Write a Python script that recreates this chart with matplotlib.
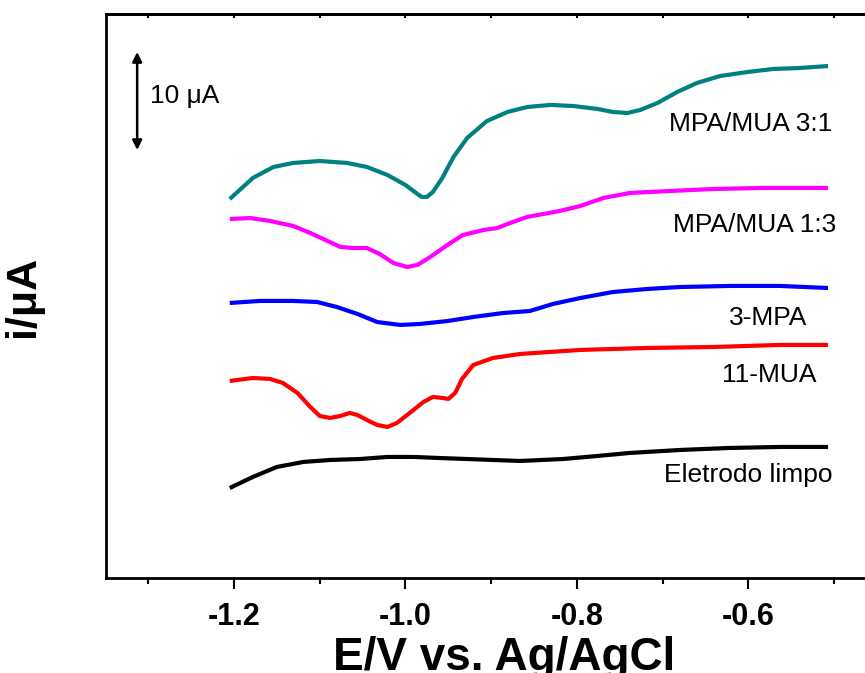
import numpy as np
import matplotlib
matplotlib.use("Agg")
import matplotlib.pyplot as plt

plt.rcParams['font.family'] = ['Liberation Sans', 'DejaVu Sans']

# potential (V vs. Ag/AgCl) and offset current (uA) for each electrode
e_31 = [-1.205, -1.178, -1.154, -1.131, -1.100, -1.068, -1.045, -1.021, -1.000,
        -0.986, -0.981, -0.975, -0.968, -0.957, -0.944, -0.928, -0.905, -0.881,
        -0.858, -0.831, -0.804, -0.776, -0.758, -0.741, -0.726, -0.706, -0.683,
        -0.660, -0.633, -0.601, -0.571, -0.540, -0.507]
i_31 = [38.67, 40.82, 41.94, 42.35, 42.55, 42.35, 41.94, 41.12, 40.10,
        39.18, 38.88, 38.88, 39.39, 40.82, 42.96, 44.90, 46.63, 47.55,
        48.06, 48.27, 48.16, 47.86, 47.55, 47.45, 47.76, 48.47, 49.59,
        50.51, 51.22, 51.63, 51.94, 52.04, 52.24]

e_13 = [-1.205, -1.181, -1.158, -1.131, -1.111, -1.091, -1.076, -1.061, -1.045,
        -1.030, -1.014, -0.998, -0.986, -0.971, -0.951, -0.933, -0.909, -0.893,
        -0.878, -0.858, -0.820, -0.796, -0.769, -0.738, -0.691, -0.641, -0.583,
        -0.507]
i_13 = [36.63, 36.73, 36.43, 35.92, 35.20, 34.39, 33.78, 33.67, 33.67,
        33.06, 32.14, 31.73, 31.94, 32.76, 33.98, 35.00, 35.51, 35.71,
        36.22, 36.84, 37.45, 37.96, 38.78, 39.29, 39.49, 39.69, 39.80,
        39.80]

e_mpa = [-1.205, -1.170, -1.131, -1.103, -1.080, -1.056, -1.033, -1.006, -0.983,
         -0.951, -0.921, -0.886, -0.855, -0.828, -0.796, -0.758, -0.718, -0.680,
         -0.621, -0.563, -0.507]
i_mpa = [28.06, 28.27, 28.27, 28.16, 27.65, 26.94, 26.12, 25.82, 25.92,
         26.22, 26.63, 27.04, 27.24, 27.96, 28.57, 29.18, 29.49, 29.69,
         29.80, 29.80, 29.59]

e_mua = [-1.205, -1.178, -1.158, -1.143, -1.126, -1.111, -1.100, -1.088, -1.076,
         -1.065, -1.056, -1.045, -1.033, -1.021, -1.010, -0.995, -0.979, -0.968,
         -0.957, -0.950, -0.942, -0.934, -0.921, -0.898, -0.866, -0.796, -0.718,
         -0.641, -0.563, -0.507]
i_mua = [20.10, 20.41, 20.31, 19.90, 18.88, 17.45, 16.53, 16.33, 16.53,
         16.84, 16.63, 16.12, 15.61, 15.41, 15.82, 16.84, 17.96, 18.47,
         18.37, 18.27, 18.88, 20.31, 21.73, 22.45, 22.86, 23.27, 23.47,
         23.57, 23.78, 23.78]

e_clean = [-1.205, -1.178, -1.150, -1.119, -1.088, -1.053, -1.021, -0.991, -0.960,
           -0.928, -0.898, -0.866, -0.816, -0.776, -0.738, -0.680, -0.621, -0.563,
           -0.507]
i_clean = [9.18, 10.31, 11.33, 11.84, 12.04, 12.14, 12.35, 12.35, 12.24,
           12.14, 12.04, 11.94, 12.14, 12.45, 12.76, 13.06, 13.27, 13.37,
           13.37]

series = [
    (e_31, i_31, '#008080', 'MPA/MUA 3:1', (-0.502, 45.61)),
    (e_13, i_13, '#FF00FF', 'MPA/MUA 1:3', (-0.498, 35.31)),
    (e_mpa, i_mpa, '#0000FF', '3-MPA', (-0.531, 25.82)),
    (e_mua, i_mua, '#FF0000', '11-MUA', (-0.521, 20.0)),
    (e_clean, i_clean, '#000000', 'Eletrodo limpo', (-0.502, 9.80)),
]

fig = plt.figure(figsize=(8.65, 6.73), dpi=100)
ax = fig.add_axes([0.1225, 0.1412, 0.921, 0.838])

for e, i, c, name, (tx, ty) in series:
    ax.plot(e, i, color=c, lw=3.0, solid_joinstyle='round', solid_capstyle='butt')
    ax.text(tx, ty, name, ha='right', va='baseline', fontsize=19)

# 10 uA scale bar
ax.annotate('', xy=(-1.313, 53.67), xytext=(-1.313, 43.67),
            arrowprops=dict(arrowstyle='<|-|>', color='black', lw=1.8,
                            mutation_scale=14, shrinkA=0, shrinkB=0))
ax.text(-1.298, 48.47, '10 μA', ha='left', va='baseline', fontsize=19)

ax.set_xlim(-1.3494, -0.42)
ax.set_ylim(0, 57.55)

ax.set_xticks([-1.2, -1.0, -0.8, -0.6])
ax.set_xticklabels(['-1.2', '-1.0', '-0.8', '-0.6'])
ax.set_xticks([-1.3, -1.1, -0.9, -0.7, -0.5], minor=True)
ax.tick_params(axis='x', which='major', direction='out', length=8, width=1.5,
               labelsize=22, pad=9)
ax.tick_params(axis='x', which='minor', direction='out', length=4, width=1.5)
for lab in ax.get_xticklabels():
    lab.set_fontweight('bold')
ax.set_yticks([])

top = ax.secondary_xaxis('top')
top.set_xticks([-1.3, -1.2, -1.1, -1.0, -0.9, -0.8, -0.7, -0.6, -0.5])
top.tick_params(direction='in', length=3, width=1.5, labeltop=False)
top.spines['top'].set_linewidth(2)

for s in ax.spines.values():
    s.set_linewidth(2)

ax.set_xlabel('E/V vs. Ag/AgCl', fontsize=33, fontweight='bold', labelpad=3)
ax.set_ylabel('i/μA', fontsize=31, fontweight='bold', labelpad=45)

fig.savefig('out.png', dpi=100)
